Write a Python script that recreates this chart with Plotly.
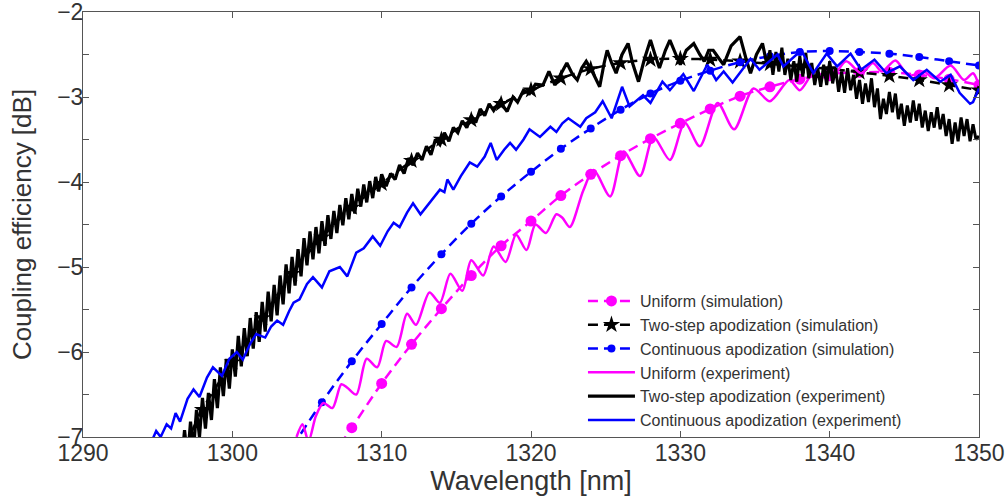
import plotly.graph_objects as go

# ---------------- Simulation curves (2-nm grid) ----------------
uni_sim_wl = [1306, 1308, 1310, 1312, 1314, 1316, 1318, 1320, 1322, 1324, 1326, 1328,
              1330, 1332, 1334, 1336, 1338, 1340, 1342, 1344, 1346, 1348, 1350]
uni_sim = [-7.40, -6.89, -6.37, -5.91, -5.49, -5.10, -4.75, -4.46, -4.16, -3.91, -3.69, -3.49,
           -3.31, -3.14, -2.99, -2.88, -2.79, -2.73, -2.71, -2.71, -2.74, -2.79, -2.86]

two_sim_wl = [1296, 1298, 1300, 1302, 1304, 1306, 1308, 1310, 1312, 1314, 1316, 1318, 1320, 1322,
              1324, 1326, 1328, 1330, 1332, 1334, 1336, 1338, 1340, 1342, 1344, 1346, 1348, 1350]
two_sim = [-7.45, -6.68, -6.12, -5.60, -5.08, -4.65, -4.30, -4.02, -3.75, -3.50, -3.27, -3.08, -2.92, -2.78,
           -2.67, -2.60, -2.56, -2.55, -2.56, -2.58, -2.61, -2.64, -2.67, -2.71, -2.75, -2.80, -2.86, -2.92]

cont_sim_wl = [1304, 1306, 1308, 1310, 1312, 1314, 1316, 1318, 1320, 1322, 1324, 1326,
               1328, 1330, 1332, 1334, 1336, 1338, 1340, 1342, 1344, 1346, 1348, 1350]
cont_sim = [-7.12, -6.59, -6.11, -5.67, -5.24, -4.85, -4.49, -4.17, -3.88, -3.61, -3.37, -3.15,
            -2.96, -2.81, -2.69, -2.59, -2.52, -2.47, -2.46, -2.47, -2.49, -2.53, -2.58, -2.63]

# ---------------- Experimental curves ----------------
uni_exp_wl = [1304.3, 1304.7, 1305.1, 1305.6, 1306.1, 1306.7, 1307.3, 1307.7, 1308.3, 1309.0,
              1309.7, 1310.3, 1311.0, 1311.7, 1312.3, 1313.2, 1313.9, 1314.6, 1315.4, 1316.0,
              1316.8, 1317.5, 1318.3, 1319.0, 1319.7, 1320.3, 1321.0, 1321.7, 1322.1, 1322.6,
              1323.5, 1324.2, 1325.3, 1326.2, 1327.3, 1328.2, 1329.3, 1330.3, 1331.3, 1332.5,
              1333.6, 1334.9, 1336.0, 1337.3, 1338.0, 1339.0, 1340.0, 1341.1, 1342.1, 1342.9,
              1343.5, 1344.4, 1345.3, 1346.3, 1347.0, 1348.1, 1349.0, 1349.6, 1350.0]
uni_exp = [-7.00, -6.85, -7.05, -6.75, -6.60, -6.66, -6.38, -6.42, -6.50, -6.08,
           -6.18, -5.87, -5.94, -5.55, -5.68, -5.30, -5.42, -5.08, -5.28, -4.92,
           -5.10, -4.76, -4.94, -4.62, -4.80, -4.50, -4.60, -4.38, -4.42, -4.53,
           -4.10, -3.86, -4.17, -3.64, -3.93, -3.47, -3.74, -3.30, -3.58, -3.07,
           -3.38, -2.90, -3.05, -2.80, -2.92, -2.70, -2.80, -2.58, -2.72, -2.60,
           -2.70, -2.57, -2.75, -2.70, -2.78, -2.63, -2.80, -2.72, -2.87]

cont_exp_wl = [1294.6, 1294.9, 1295.2, 1295.6, 1295.9, 1296.2, 1296.5, 1297.0, 1297.4, 1297.8,
               1298.3, 1298.7, 1299.3, 1299.8, 1300.3, 1300.7, 1301.2, 1301.6, 1302.2, 1302.6,
               1303.0, 1303.4, 1303.8, 1304.1, 1304.5, 1305.0, 1305.4, 1306.0, 1306.5, 1306.9,
               1307.2, 1307.7, 1308.3, 1308.8, 1309.4, 1309.9, 1310.4, 1310.8, 1311.2, 1311.7,
               1312.1, 1312.6, 1313.2, 1313.9, 1314.2, 1314.4, 1314.8, 1315.3, 1315.9, 1316.4,
               1316.9, 1317.3, 1317.7, 1318.2, 1318.6, 1319.0, 1319.5, 1319.9, 1320.6, 1321.3,
               1321.7, 1322.1, 1322.5, 1322.8, 1323.3, 1323.7, 1324.3, 1324.8, 1325.4, 1326.1,
               1326.6, 1327.5, 1328.0, 1328.8, 1329.3, 1330.2, 1330.9, 1331.8, 1332.4, 1332.9,
               1333.5, 1334.7, 1335.3, 1336.5, 1336.9, 1338.1, 1338.9, 1339.8, 1340.5, 1341.4,
               1342.1, 1343.0, 1343.8, 1344.7, 1345.6, 1346.5, 1347.4, 1348.1, 1348.7, 1349.4,
               1349.6, 1350.0]
cont_exp = [-7.05, -6.93, -7.00, -6.85, -6.90, -6.72, -6.82, -6.55, -6.44, -6.53,
            -6.30, -6.18, -6.28, -6.08, -6.00, -6.09, -5.90, -5.79, -5.83, -5.70,
            -5.63, -5.68, -5.52, -5.42, -5.38, -5.20, -5.12, -5.24, -5.05, -5.02,
            -5.00, -5.11, -4.83, -4.78, -4.64, -4.75, -4.58, -4.48, -4.53, -4.36,
            -4.25, -4.38, -4.24, -4.09, -4.12, -3.97, -4.09, -3.93, -3.77, -3.82,
            -3.70, -3.54, -3.74, -3.62, -3.54, -3.62, -3.50, -3.38, -3.47, -3.35,
            -3.41, -3.31, -3.25, -3.29, -3.35, -3.25, -3.18, -3.05, -3.25, -2.88,
            -3.11, -2.98, -3.07, -2.82, -2.92, -2.73, -2.93, -2.62, -2.80, -2.70,
            -2.83, -2.55, -2.68, -2.50, -2.64, -2.45, -2.72, -2.49, -2.64, -2.49,
            -2.68, -2.56, -2.72, -2.64, -2.80, -2.68, -2.82, -2.74, -2.95, -3.08,
            -3.06, -2.90]

# Two-step experiment, part 1: dense noisy band sampled every 0.2 nm from 1296.6 nm
two_exp_a_start = 1296.6
two_exp_a_step = 0.2
two_exp_a = [-7.30,
             -6.92, -7.26, -6.82, -7.16, -6.68, -7.00, -6.54, -6.90, -6.48, -6.80,
             -6.32, -6.66, -6.18, -6.52, -6.08, -6.43, -5.97, -6.29, -5.81, -6.17,
             -5.72, -6.05, -5.60, -5.96, -5.53, -5.88, -5.41, -5.76, -5.29, -5.64,
             -5.21, -5.57, -5.10, -5.44, -4.97, -5.31, -4.88, -5.22, -4.79, -5.11,
             -4.66, -4.98, -4.58, -4.91, -4.53, -4.84, -4.46, -4.75, -4.39, -4.67,
             -4.34, -4.60, -4.27, -4.51, -4.19, -4.44, -4.14, -4.37, -4.08, -4.29,
             -4.03, -4.24, -3.99, -4.19, -3.94, -4.11, -3.91]
# part 2: ripples between 1310 and 1336 nm
two_exp_b_wl = [1310.3, 1310.6, 1310.9, 1311.2, 1311.5, 1311.8, 1312.1, 1312.4, 1312.7, 1313.0,
                1313.3, 1313.6, 1313.9, 1314.2, 1314.5, 1314.8, 1315.1, 1315.4, 1315.7, 1316.0,
                1316.3, 1316.6, 1316.9, 1317.2, 1317.5, 1317.9, 1318.4, 1318.8, 1319.1, 1319.5,
                1319.9, 1320.3, 1320.8, 1321.2, 1321.6, 1322.0, 1322.4, 1322.8, 1323.1, 1323.4,
                1323.7, 1324.1, 1324.6, 1324.9, 1325.1, 1325.4, 1325.7, 1326.1, 1326.5, 1326.8,
                1327.2, 1327.6, 1328.0, 1328.3, 1328.6, 1329.0, 1329.3, 1329.7, 1330.0, 1330.4,
                1330.9, 1331.3, 1331.6, 1331.9, 1332.2, 1332.6, 1332.9, 1333.4, 1334.0, 1334.4,
                1334.7, 1335.1, 1335.5, 1335.8]
two_exp_b = [-4.05, -3.90, -3.97, -3.80, -3.90, -3.72, -3.80, -3.66, -3.74, -3.58,
             -3.68, -3.50, -3.56, -3.42, -3.52, -3.36, -3.42, -3.28, -3.36, -3.22,
             -3.30, -3.14, -3.22, -3.08, -3.16, -3.05, -3.17, -3.00, -3.06, -2.92,
             -2.96, -2.85, -2.86, -2.70, -2.86, -2.72, -2.60, -2.74, -2.80, -2.66,
             -2.58, -2.70, -2.88, -2.60, -2.45, -2.60, -2.72, -2.50, -2.37, -2.60,
             -2.82, -2.55, -2.33, -2.50, -2.66, -2.45, -2.33, -2.50, -2.62, -2.45,
             -2.37, -2.50, -2.58, -2.45, -2.45, -2.55, -2.62, -2.40, -2.29, -2.55,
             -2.72, -2.50, -2.37, -2.62]
# part 3: dense noisy decline sampled every 0.2 nm from 1336.0 nm
two_exp_c_start = 1336.0
two_exp_c_step = 0.2
two_exp_c = [-2.45, -2.74, -2.47, -2.70, -2.42, -2.74, -2.55, -2.80, -2.58, -2.82,
             -2.52, -2.76, -2.48, -2.78, -2.60, -2.86, -2.66, -2.88, -2.62, -2.86,
             -2.58, -2.84, -2.66, -2.94, -2.70, -2.95, -2.66, -2.92, -2.74, -3.02,
             -2.80, -3.08, -2.84, -3.06, -2.78, -3.12, -2.90, -3.26, -3.02, -3.20,
             -2.94, -3.18, -2.96, -3.26, -3.08, -3.34, -3.10, -3.30, -3.04, -3.28,
             -3.08, -3.36, -3.16, -3.40, -3.18, -3.36, -3.12, -3.38, -3.20, -3.46,
             -3.26, -3.55, -3.30, -3.52, -3.24, -3.46, -3.26, -3.52, -3.32, -3.50,
             -3.46]

two_exp_a_wl = [round(two_exp_a_start + i * two_exp_a_step, 2) for i in range(len(two_exp_a))]
two_exp_c_wl = [round(two_exp_c_start + i * two_exp_c_step, 2) for i in range(len(two_exp_c))]

x_ticks = [1290, 1300, 1310, 1320, 1330, 1340, 1350]
y_ticks = [-7, -6, -5, -4, -3, -2]

MAG = '#FF00FF'
BLU = '#0000FF'
BLK = '#000000'
DASH = '10px,6px'

fig = go.Figure()
fig.add_trace(go.Scatter(x=uni_sim_wl, y=uni_sim, mode='lines+markers', name='Uniform (simulation)',
                         line=dict(color=MAG, width=2.5, dash=DASH, shape='spline'),
                         marker=dict(symbol='circle', size=11, color=MAG)))
fig.add_trace(go.Scatter(x=two_sim_wl, y=two_sim, mode='lines+markers', name='Two-step apodization (simulation)',
                         line=dict(color=BLK, width=2.5, dash=DASH, shape='spline'),
                         marker=dict(symbol='star', size=13, color=BLK)))
fig.add_trace(go.Scatter(x=cont_sim_wl, y=cont_sim, mode='lines+markers', name='Continuous apodization (simulation)',
                         line=dict(color=BLU, width=2.5, dash=DASH, shape='spline'),
                         marker=dict(symbol='circle', size=8, color=BLU)))
fig.add_trace(go.Scatter(x=uni_exp_wl, y=uni_exp, mode='lines', name='Uniform (experiment)',
                         line=dict(color=MAG, width=2.5, shape='spline', smoothing=0.8)))
fig.add_trace(go.Scatter(x=two_exp_a_wl + two_exp_b_wl, y=two_exp_a + two_exp_b, mode='lines',
                         name='Two-step apodization (experiment)', legendgroup='two_exp',
                         line=dict(color=BLK, width=3.2)))
fig.add_trace(go.Scatter(x=[two_exp_b_wl[-1]] + two_exp_c_wl, y=[two_exp_b[-1]] + two_exp_c, mode='lines',
                         name='Two-step apodization (experiment)', legendgroup='two_exp', showlegend=False,
                         line=dict(color=BLK, width=3.0)))
fig.add_trace(go.Scatter(x=cont_exp_wl, y=cont_exp, mode='lines', name='Continuous apodization (experiment)',
                         line=dict(color=BLU, width=2.5)))

AX = '#555555'
TXT = '#333333'
fig.update_layout(
    width=1006, height=498,
    margin=dict(l=83, r=27, t=12, b=61),
    paper_bgcolor='white', plot_bgcolor='white',
    font=dict(family='Liberation Sans, Arial, sans-serif', color=TXT),
    legend=dict(x=0.558, y=0.36, xanchor='left', yanchor='top',
                bgcolor='rgba(0,0,0,0)', font=dict(size=16, color=TXT),
                itemwidth=47, tracegroupgap=0),
    showlegend=True,
)
fig.update_xaxes(range=[1290, 1350], tickvals=x_ticks, ticks='inside', ticklen=6, tickcolor=AX,
                 showline=True, linecolor=AX, linewidth=1, mirror='ticks',
                 showgrid=False, zeroline=False, automargin=False, ticklabeloverflow='allow',
                 ticklabelstandoff=-5,
                 tickfont=dict(size=23, color=TXT),
                 title=dict(text='Wavelength [nm]', font=dict(size=27, color=TXT), standoff=0))
fig.update_yaxes(range=[-7, -2], tickvals=y_ticks, ticks='inside', ticklen=6, tickcolor=AX,
                 minor=dict(dtick=0.5, ticks='inside', ticklen=6, tickcolor=AX),
                 showline=True, linecolor=AX, linewidth=1, mirror='ticks',
                 showgrid=False, zeroline=False, automargin=False, ticklabeloverflow='allow',
                 ticklabelstandoff=-6,
                 tickfont=dict(size=23, color=TXT),
                 title=dict(text='Coupling efficiency [dB]', font=dict(size=26, color=TXT), standoff=18))

fig.write_html('out.html', config={'displayModeBar': False},
               post_script="document.body.style.margin='0px';")
